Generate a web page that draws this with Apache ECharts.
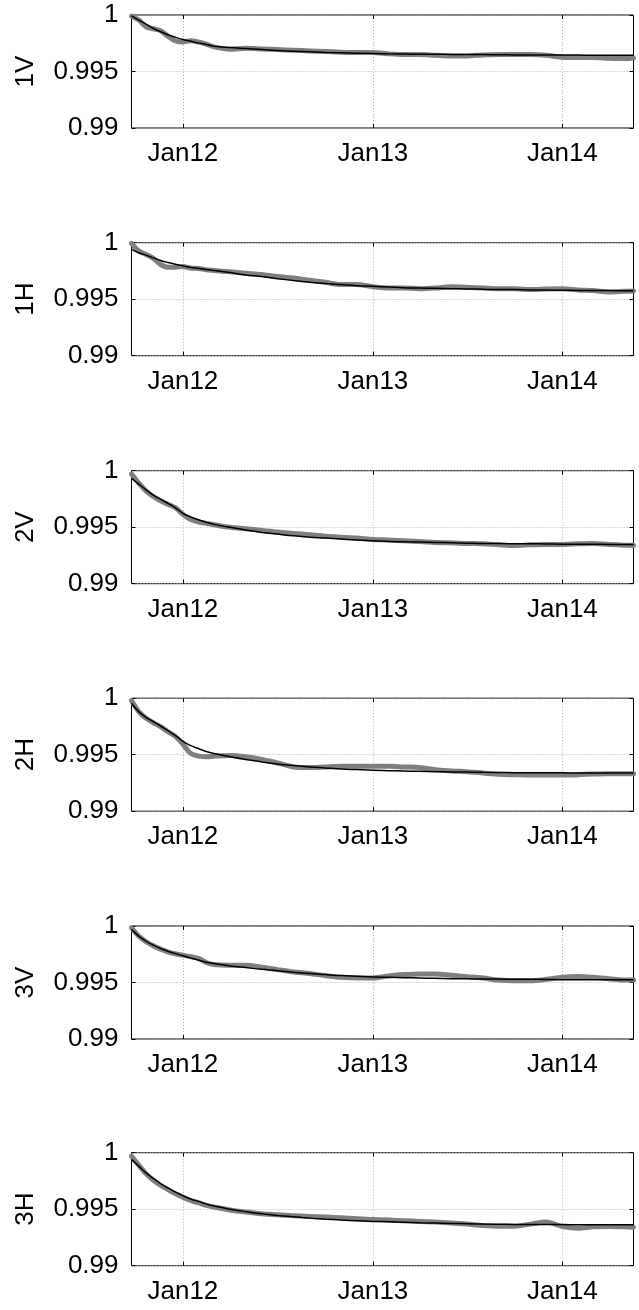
<!DOCTYPE html>
<html><head><meta charset="utf-8">
<script src="https://cdn.jsdelivr.net/npm/echarts@6/dist/echarts.min.js"></script>
<style>html,body{margin:0;padding:0;background:#fff}#c{width:639px;height:1310px}</style>
</head><body><div id="c"></div>
<script>
const dates = ['2011-09-24','2011-10-08','2011-10-22','2011-11-05','2011-11-19','2011-12-03','2011-12-17',
'2012-01-01','2012-01-15','2012-02-01','2012-02-15','2012-03-01','2012-04-01','2012-05-01','2012-06-01','2012-07-01',
'2012-08-01','2012-09-01','2012-10-01','2012-11-01','2012-12-01','2013-01-01','2013-02-01','2013-03-01','2013-04-01',
'2013-05-01','2013-06-01','2013-07-01','2013-08-01','2013-09-01','2013-10-01','2013-11-01','2013-12-01','2014-01-01',
'2014-02-01','2014-03-01','2014-04-01','2014-05-01','2014-05-18'];
const panelNames = ['1V','1H','2V','2H','3V','3H'];

const measured1V = [0.99991,0.99955,0.99896,0.99878,0.99861,0.99813,0.99772,0.9976,0.99772,0.9976,0.99742,0.99718,0.99697,0.99706,0.997,0.99694,0.99688,0.99682,0.99677,0.99671,0.99668,0.99668,0.99656,0.9965,0.9965,0.99644,0.99638,0.99638,0.99647,0.9965,0.9965,0.9965,0.99644,0.99626,0.99623,0.99623,0.99617,0.99614,0.9962];
const fit1V = [0.99993,0.99955,0.9992,0.99881,0.99852,0.99825,0.99804,0.99783,0.99769,0.99751,0.99739,0.99724,0.99712,0.99703,0.99694,0.99685,0.9968,0.99674,0.99668,0.99665,0.99662,0.99659,0.99656,0.99654,0.99653,0.99653,0.99651,0.9965,0.9965,0.99648,0.99647,0.99647,0.99647,0.99645,0.99645,0.99644,0.99644,0.99644,0.99644];

const measured1H = [0.99994,0.99926,0.99896,0.99861,0.99807,0.99783,0.99783,0.99789,0.99777,0.99772,0.9976,0.99754,0.99742,0.9973,0.99718,0.997,0.99688,0.99668,0.9965,0.99629,0.99629,0.99611,0.99599,0.99599,0.99593,0.99599,0.99611,0.99605,0.99599,0.99593,0.99593,0.99585,0.99591,0.99593,0.99582,0.99576,0.99564,0.9957,0.99573];
const fit1H = [0.99941,0.99911,0.9989,0.99866,0.99843,0.99825,0.9981,0.99795,0.99783,0.99772,0.99763,0.99754,0.99736,0.99715,0.997,0.99682,0.99665,0.9965,0.99638,0.99629,0.9962,0.99614,0.99608,0.99602,0.99599,0.99596,0.99593,0.99591,0.99588,0.99585,0.99585,0.99582,0.99581,0.99579,0.99578,0.99576,0.99576,0.99574,0.99574];

const measured2V = [0.9997,0.9989,0.99822,0.99772,0.99733,0.99703,0.99674,0.99614,0.9957,0.99546,0.99534,0.99522,0.99499,0.99487,0.99472,0.99457,0.99445,0.99433,0.99421,0.99412,0.99404,0.99392,0.99386,0.9938,0.99374,0.99365,0.99362,0.99356,0.99353,0.99344,0.99338,0.99344,0.99347,0.99347,0.99353,0.99356,0.99347,0.99341,0.99338];
const fit2V = [0.99932,0.99881,0.99831,0.99783,0.99748,0.99712,0.99674,0.99623,0.99593,0.99564,0.99543,0.99525,0.99499,0.99475,0.99454,0.99439,0.99424,0.99412,0.99404,0.99395,0.99386,0.9938,0.99374,0.99371,0.99368,0.99365,0.99362,0.99359,0.99356,0.99356,0.99353,0.99353,0.99352,0.9935,0.9935,0.99349,0.99347,0.99347,0.99347];

const measured2H = [0.99979,0.99881,0.99822,0.99783,0.99748,0.99703,0.99665,0.99593,0.99516,0.99487,0.99481,0.99487,0.99493,0.99481,0.99457,0.99427,0.99392,0.99386,0.99392,0.99398,0.99398,0.99398,0.99398,0.99392,0.99386,0.99368,0.99356,0.9935,0.99338,0.99326,0.99323,0.9932,0.9932,0.9932,0.99323,0.99329,0.99332,0.99332,0.99332];
const fit2H = [0.99955,0.99881,0.99831,0.99792,0.99754,0.99712,0.99671,0.9962,0.99582,0.99552,0.99528,0.9951,0.99481,0.99457,0.99436,0.99418,0.99404,0.99392,0.99383,0.99374,0.99368,0.99362,0.99359,0.99356,0.99353,0.9935,0.99347,0.99346,0.99344,0.99343,0.99341,0.99341,0.9934,0.9934,0.99338,0.99338,0.99338,0.99338,0.99338];

const measured3V = [0.99985,0.99911,0.99861,0.99825,0.99795,0.99772,0.99754,0.99742,0.9973,0.99712,0.99677,0.99659,0.99653,0.99653,0.99635,0.99614,0.99593,0.99579,0.99561,0.99546,0.9954,0.9954,0.99558,0.9957,0.99576,0.99576,0.99564,0.99552,0.9954,0.99522,0.99516,0.99516,0.99528,0.99546,0.99552,0.99546,0.99534,0.99522,0.99522];
const fit3V = [0.9997,0.99911,0.99866,0.99831,0.99801,0.99777,0.99757,0.99736,0.99718,0.99697,0.9968,0.99668,0.99647,0.99632,0.99617,0.99605,0.99591,0.99579,0.9957,0.99561,0.99555,0.99549,0.99546,0.99543,0.9954,0.99537,0.99534,0.99533,0.99531,0.9953,0.99528,0.99528,0.99527,0.99525,0.99525,0.99525,0.99525,0.99525,0.99525];

const measured3H = [0.9997,0.9989,0.99813,0.99757,0.99712,0.99674,0.99638,0.99605,0.99579,0.99555,0.99534,0.99519,0.99493,0.99475,0.9946,0.99451,0.99442,0.99436,0.9943,0.99424,0.99415,0.99409,0.99404,0.99398,0.99392,0.99386,0.99377,0.99368,0.99356,0.9935,0.9935,0.99368,0.99386,0.99347,0.99332,0.99344,0.99347,0.99344,0.99341];
const fit3H = [0.99941,0.99881,0.99822,0.99772,0.99727,0.99688,0.99653,0.9962,0.99593,0.99567,0.99546,0.99528,0.99499,0.99478,0.9946,0.99445,0.99433,0.99421,0.99412,0.99404,0.99398,0.99392,0.99389,0.99384,0.9938,0.99377,0.99374,0.99371,0.99368,0.99367,0.99365,0.99365,0.99364,0.99364,0.99362,0.99362,0.99362,0.99362,0.99362];

const xTickDates = ['2012-01-01','2013-01-01','2014-01-01'];
const xTickLabels = ['Jan12','Jan13','Jan14'];
const yTickValues = [0.99, 0.995, 1];
const yTickLabels = ['0.99','0.995','1'];
const xStart = '2011-09-24', xEnd = '2014-05-18';

const measured = [measured1V, measured1H, measured2V, measured2H, measured3V, measured3H];
const fits = [fit1V, fit1H, fit2V, fit2H, fit3V, fit3H];

const T = d => Date.parse(d + 'T00:00:00Z');
const xTicks = xTickDates.map(T);
const FONT = '"Liberation Sans", Arial, Helvetica, sans-serif';
const FS = 26;
const tops = [15, 242.7, 470.7, 698.2, 926, 1152.7];

const grid = [], xAxis = [], yAxis = [], series = [];
panelNames.forEach((name, i) => {
  grid.push({left: 131.5, width: 502, top: tops[i], height: 113, containLabel: false, outerBoundsMode: 'none',
    show: true, borderColor: '#000', borderWidth: 1, backgroundColor: '#fff'});
  const xBase = {gridIndex: i, type: 'value', min: T(xStart), max: T(xEnd), axisLine: {show: false}};
  xAxis.push(Object.assign({}, xBase, {position: 'bottom',
    axisTick: {show: true, inside: true, length: 4, lineStyle: {color: '#000'}, customValues: xTicks},
    axisLabel: {show: true, customValues: xTicks, margin: 13, color: '#000', fontSize: FS, fontFamily: FONT,
      formatter: v => { const k = xTicks.indexOf(v); return k >= 0 ? xTickLabels[k] : ''; }},
    splitLine: {show: true, lineStyle: {color: '#b0b0b0', type: [1, 2], width: 1}}}));
  xAxis.push(Object.assign({}, xBase, {position: 'top',
    axisTick: {show: true, inside: true, length: 4, lineStyle: {color: '#000'}, customValues: xTicks},
    axisLabel: {show: false, customValues: xTicks}, splitLine: {show: false}}));
  const yBase = {gridIndex: i, type: 'value', min: 0.99, max: 1, interval: 0.005, axisLine: {show: false}};
  yAxis.push(Object.assign({}, yBase, {position: 'left', name: name, nameLocation: 'middle', nameGap: 93, nameRotate: 90,
    nameTextStyle: {color: '#000', fontSize: FS, fontFamily: FONT},
    axisTick: {show: true, inside: true, length: 4, lineStyle: {color: '#000'}},
    axisLabel: {show: true, margin: 13, color: '#000', fontSize: FS, fontFamily: FONT,
      formatter: v => { let k = -1; yTickValues.forEach((t, j) => { if (Math.abs(t - v) < 1e-9) k = j; }); return k >= 0 ? yTickLabels[k] : ''; }},
    splitLine: {show: true, lineStyle: {color: '#b0b0b0', type: [1, 2], width: 1}}}));
  yAxis.push(Object.assign({}, yBase, {position: 'right',
    axisTick: {show: true, inside: true, length: 4, lineStyle: {color: '#000'}},
    axisLabel: {show: false}, splitLine: {show: false}}));
  series.push({type: 'line', xAxisIndex: 2 * i, yAxisIndex: 2 * i, showSymbol: false, smooth: 0.3, silent: true,
    lineStyle: {color: '#7f7f7f', width: 5, cap: 'round', join: 'round'},
    data: dates.map((d, k) => [T(d), measured[i][k]])});
  series.push({type: 'line', xAxisIndex: 2 * i, yAxisIndex: 2 * i, showSymbol: false, smooth: 0.4, silent: true,
    lineStyle: {color: '#000', width: 1.5},
    data: dates.map((d, k) => [T(d), fits[i][k]])});
});

const chart = echarts.init(document.getElementById('c'), null, {renderer: 'canvas'});
chart.setOption({animation: false, backgroundColor: '#fff', grid, xAxis, yAxis, series});
</script></body></html>
